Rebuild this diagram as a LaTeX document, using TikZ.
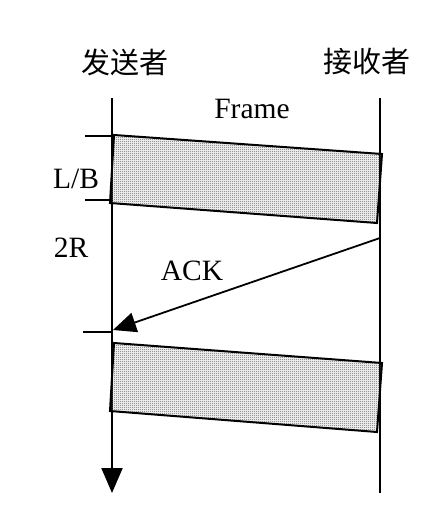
\documentclass[tikz,border=0pt]{standalone}
\usepackage{fontspec}
\setmainfont{Liberation Serif}
\newfontfamily\cjk{Noto Sans CJK SC}
\usetikzlibrary{arrows.meta,patterns}
\pgfdeclarepatternformonly{finecheck}{\pgfpointorigin}{\pgfqpoint{2pt}{2pt}}{\pgfqpoint{2pt}{2pt}}{%
  \pgfpathrectangle{\pgfpointorigin}{\pgfqpoint{1pt}{1pt}}%
  \pgfpathrectangle{\pgfqpoint{1pt}{1pt}}{\pgfqpoint{1pt}{1pt}}%
  \pgfusepath{fill}}
\begin{document}
\begin{tikzpicture}[x=1pt,y=-1pt,
  lifeline/.style={line width=2pt},
  tick/.style={line width=1.5pt},
  framebox/.style={line width=2pt, line join=miter, pattern=finecheck, pattern color=black!65},
  lbl/.style={inner sep=0pt, font=\fontsize{29.5}{34}\selectfont},
  cjklbl/.style={inner sep=0pt, font=\cjk\fontsize{29}{34}\selectfont}]
\useasboundingbox (0,0) rectangle (437,518);
% lifelines
\coordinate (sTop) at (112,98);
\coordinate (sBot) at (112,493);
\coordinate (rTop) at (380,98);
\coordinate (rBot) at (380,493);
\draw[lifeline,-{Triangle[length=25pt,width=21pt]}] (sTop) -- (sBot);
\draw[lifeline] (rTop) -- (rBot);
% frames
\coordinate (f1a) at (114,135);
\coordinate (f1b) at (382,154);
\coordinate (f1c) at (377,223);
\coordinate (f1d) at (110,203);
\draw[framebox] (f1a) -- (f1b) -- (f1c) -- (f1d) -- cycle;
\coordinate (f2a) at (114,343);
\coordinate (f2b) at (382,363);
\coordinate (f2c) at (377,432);
\coordinate (f2d) at (110,411);
\draw[framebox] (f2a) -- (f2b) -- (f2c) -- (f2d) -- cycle;
% ticks
\coordinate (t1a) at (85,136);  \coordinate (t1b) at (112,136);
\coordinate (t2a) at (85,200);  \coordinate (t2b) at (112,200);
\coordinate (t3a) at (83,332);  \coordinate (t3b) at (112,332);
\draw[tick] (t1a) -- (t1b);
\draw[tick] (t2a) -- (t2b);
\draw[tick] (t3a) -- (t3b);
% ACK
\coordinate (ackS) at (380,238);
\coordinate (ackE) at (113,330);
\draw[line width=1.8pt,-{Triangle[length=23pt,width=20pt]}] (ackS) -- (ackE);
% labels
\node[cjklbl] (sender) at (125,62) {发送者};
\node[cjklbl] (receiver) at (367,62) {接收者};
\node[lbl] (frame) at (252,109) {Frame};
\node[lbl] (lb) at (76,179) {L/B};
\node[lbl] (tr) at (71,248) {2R};
\node[lbl] (ack) at (192,271) {ACK};
\end{tikzpicture}
\end{document}
